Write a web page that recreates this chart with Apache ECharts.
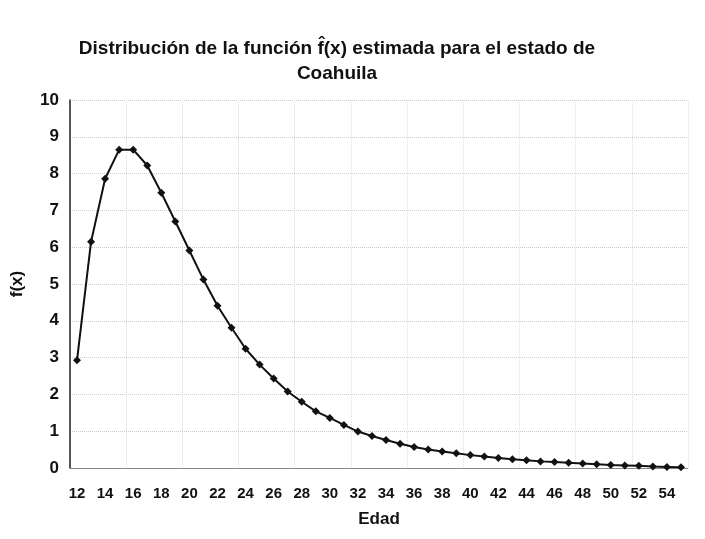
<!DOCTYPE html>
<html><head><meta charset="utf-8">
<script src="https://cdn.jsdelivr.net/npm/echarts@6/dist/echarts.min.js"></script>
<style>html,body{margin:0;padding:0;background:#fff}#c{width:705px;height:539px}</style>
</head><body><div id="c"></div>
<script>
const edades = [12,13,14,15,16,17,18,19,20,21,22,23,24,25,26,27,28,29,30,31,32,33,34,35,36,37,38,39,40,41,42,43,44,45,46,47,48,49,50,51,52,53,54,55];
const fx = [2.93,6.15,7.86,8.65,8.65,8.22,7.48,6.70,5.91,5.12,4.41,3.81,3.24,2.81,2.43,2.08,1.80,1.54,1.36,1.17,0.99,0.87,0.76,0.66,0.57,0.50,0.45,0.40,0.35,0.31,0.27,0.24,0.21,0.18,0.16,0.14,0.12,0.10,0.08,0.07,0.06,0.04,0.03,0.02];
const yTicks = [0,1,2,3,4,5,6,7,8,9,10];
const titleText = 'Distribución de la función f\u0302(x) estimada para el estado de\nCoahuila';
const chart = echarts.init(document.getElementById('c'));
chart.setOption({
  animation:false,
  backgroundColor:'#fff',
  title:{text:titleText,left:332,top:31,textAlign:'center',
    textStyle:{fontFamily:'Liberation Sans, Arial',fontWeight:'bold',fontSize:19,color:'#111',lineHeight:25}},
  grid:{left:70,right:17,top:100,bottom:71},
  xAxis:{type:'category',data:edades,boundaryGap:true,
    name:'Edad',nameLocation:'middle',nameGap:43,
    nameTextStyle:{fontFamily:'Liberation Sans, Arial',fontWeight:'bold',fontSize:17,color:'#111'},
    axisLine:{lineStyle:{color:'#888',width:1}},
    axisTick:{show:false},
    axisLabel:{interval:1,margin:18,fontFamily:'Liberation Sans, Arial',fontWeight:'bold',fontSize:15,color:'#111'},
    splitLine:{show:true,interval:3,lineStyle:{color:'#ddd',type:'dotted'}}},
  yAxis:{type:'value',min:yTicks[0],max:yTicks[yTicks.length-1],interval:1,
    name:'f(x)',nameLocation:'middle',nameGap:44,nameRotate:90,
    nameTextStyle:{fontFamily:'Liberation Sans, Arial',fontWeight:'bold',fontSize:17,color:'#111'},
    axisLine:{show:true,lineStyle:{color:'#222',width:1.5}},
    axisTick:{show:false},
    axisLabel:{margin:11,fontFamily:'Liberation Sans, Arial',fontWeight:'bold',fontSize:17,color:'#111'},
    splitLine:{show:true,lineStyle:{color:'#ccc',type:'dotted'}}},
  series:[{type:'line',data:fx,symbol:'diamond',symbolSize:8,
    lineStyle:{color:'#111',width:2},itemStyle:{color:'#111'}}]
});
</script></body></html>
